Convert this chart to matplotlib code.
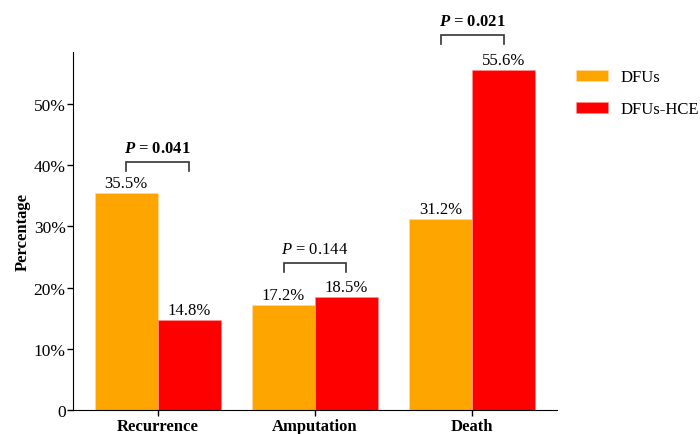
import matplotlib
matplotlib.use("Agg")
import matplotlib.pyplot as plt
import numpy as np

plt.rcParams['font.family'] = ['Liberation Serif', 'DejaVu Serif']
plt.rcParams['mathtext.fontset'] = 'custom'
plt.rcParams['mathtext.rm'] = 'Liberation Serif'
plt.rcParams['mathtext.it'] = 'Liberation Serif:italic'
plt.rcParams['mathtext.bf'] = 'Liberation Serif:bold'
plt.rcParams['mathtext.bfit'] = 'Liberation Serif:italic:bold'

categories = ['Recurrence', 'Amputation', 'Death']
dfus = [35.5, 17.2, 31.2]
dfus_hce = [14.8, 18.5, 55.6]
series_names = ['DFUs', 'DFUs-HCE']
p_values = ['0.041', '0.144', '0.021']
p_significant = [True, False, True]
bracket_levels = [39.0, 22.5, 59.8]

colors = ['#FFA500', '#FF0000']
width = 0.4

fig = plt.figure(figsize=(7.0, 4.35), dpi=100)
ax = fig.add_axes([0.104, 0.055, 0.692, 0.823])

x = np.arange(len(categories))
b1 = ax.bar(x - width / 2, dfus, width, color=colors[0], label=series_names[0],
            edgecolor='#FFD9A0', linewidth=0.5)
b2 = ax.bar(x + width / 2, dfus_hce, width, color=colors[1], label=series_names[1],
            edgecolor='#FF9090', linewidth=0.5)

for bars, vals in ((b1, dfus), (b2, dfus_hce)):
    for rect, v in zip(bars, vals):
        ax.text(rect.get_x() + rect.get_width() / 2, v + 0.3, f'{v}%',
                ha='center', va='bottom', fontsize=12)

# significance brackets between paired bars
for i, (p, sig, lvl) in enumerate(zip(p_values, p_significant, bracket_levels)):
    x0, x1 = x[i] - width / 2, x[i] + width / 2
    top = lvl + 1.5
    ax.plot([x0, x0, x1, x1], [lvl, top, top, lvl], color='#333333', lw=1.2,
            clip_on=False, solid_joinstyle='miter')
    if sig:
        label = r'$\mathbfit{P}$ = ' + p
        ax.text((x0 + x1) / 2, top + 1.0, label, ha='center', va='bottom',
                fontsize=12, fontweight='bold', clip_on=False)
    else:
        label = r'$\mathit{P}$ = ' + p
        ax.text((x0 + x1) / 2, top + 1.0, label, ha='center', va='bottom',
                fontsize=12, clip_on=False)

ax.set_xlim(-0.54, 2.54)
ax.set_ylim(0, 58.5)
ax.set_xticks(x)
ax.set_xticklabels(categories, fontsize=12, fontweight='bold')
ax.set_yticks([0, 10, 20, 30, 40, 50])
ax.set_yticklabels(['0', '10%', '20%', '30%', '40%', '50%'], fontsize=12.5)
ax.set_ylabel('Percentage', fontsize=12, fontweight='bold', labelpad=2)
ax.spines['top'].set_visible(False)
ax.spines['right'].set_visible(False)
ax.tick_params(direction='out', length=4, width=1)
ax.tick_params(axis='y', pad=1.2)
ax.tick_params(axis='x', pad=2)

ax.legend(loc='upper left', bbox_to_anchor=(0.823, 0.838), bbox_transform=fig.transFigure,
          frameon=False, fontsize=12, handlelength=1.9, handleheight=0.7,
          labelspacing=0.95, handletextpad=0.75, borderpad=0, borderaxespad=0)

fig.savefig('out.png', dpi=100)
